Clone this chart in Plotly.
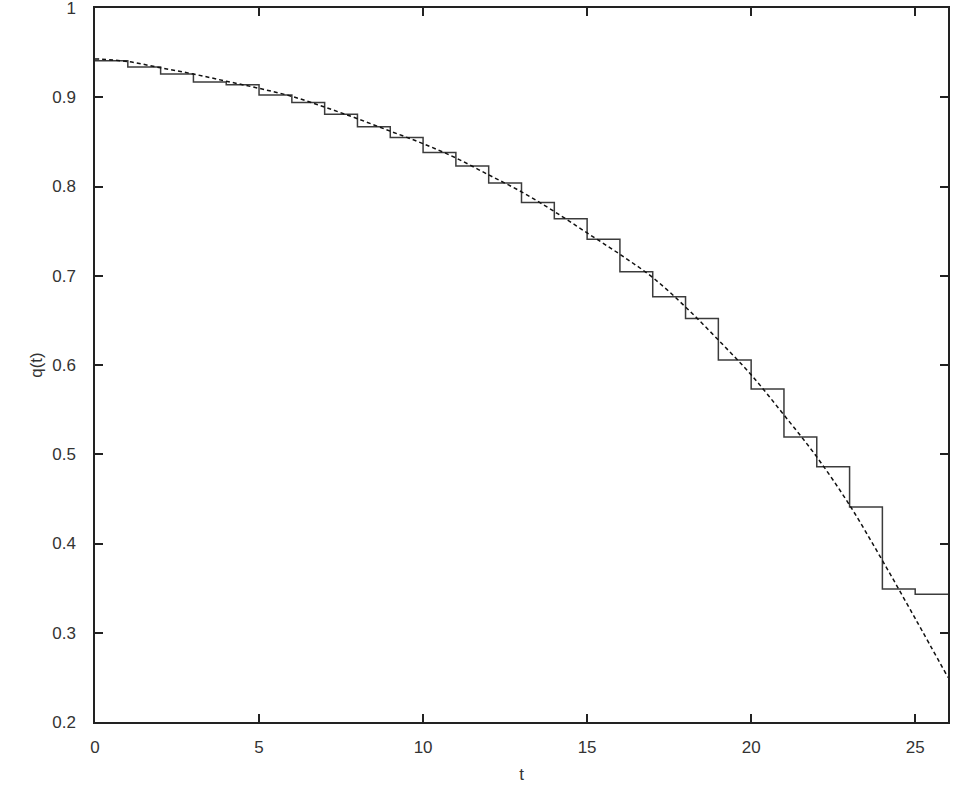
import plotly.graph_objects as go

# Step function: value on each unit interval [t, t+1)
step_t = list(range(0, 27))
step_q = [0.941, 0.934, 0.926, 0.917, 0.914, 0.9025, 0.894, 0.881, 0.867, 0.855,
          0.838, 0.823, 0.804, 0.782, 0.764, 0.741, 0.7045, 0.6765, 0.652, 0.6056,
          0.5731, 0.5193, 0.486, 0.441, 0.349, 0.343, 0.343]

# Smooth (dashed) curve read at integer t
curve_t = list(range(0, 27))
curve_q = [0.943, 0.940, 0.933, 0.926, 0.918, 0.910, 0.901, 0.889, 0.876, 0.862,
           0.848, 0.832, 0.813, 0.794, 0.772, 0.748, 0.724, 0.698, 0.665, 0.628,
           0.589, 0.544, 0.497, 0.443, 0.381, 0.316, 0.250]

x_ticks = [0, 5, 10, 15, 20, 25]
y_ticks = [0.2, 0.3, 0.4, 0.5, 0.6, 0.7, 0.8, 0.9, 1.0]
y_tick_labels = ["0.2", "0.3", "0.4", "0.5", "0.6", "0.7", "0.8", "0.9", "1"]

fig = go.Figure()
fig.add_trace(go.Scatter(x=step_t, y=step_q, mode="lines", line_shape="hv",
                         line=dict(color="#3c3c3c", width=1.5), showlegend=False))
fig.add_trace(go.Scatter(x=curve_t, y=curve_q, mode="lines", line_shape="spline",
                         line=dict(color="#111111", width=1.5, dash="4px,3px"),
                         showlegend=False))

font = dict(family="Liberation Sans, Arial, sans-serif", size=17, color="#333333")
fig.update_layout(
    width=953, height=792,
    margin=dict(l=95, r=5, t=8, b=70),
    plot_bgcolor="white", paper_bgcolor="white",
    font=font,
    xaxis=dict(range=[0, 26], tickvals=x_ticks, ticks="inside", ticklen=8,
               tickcolor="#222", tickwidth=1.5, tickfont=font, automargin=False,
               showline=True, linecolor="#222", linewidth=1.5, mirror="ticks",
               showgrid=False, zeroline=False, ticklabelstandoff=9,
               title=dict(text="t", standoff=12, font=font)),
    yaxis=dict(range=[0.2, 1.00001], tickvals=y_ticks, ticktext=y_tick_labels,
               ticks="inside", ticklen=8, tickcolor="#222", tickwidth=1.5,
               tickfont=font, automargin=False, ticklabeloverflow="allow",
               showline=True, linecolor="#222", linewidth=1.5, mirror="ticks",
               showgrid=False, zeroline=False, ticklabelstandoff=14,
               title=dict(text="q(t)", standoff=5, font=font)),
)
fig.write_html("out.html", config={"displayModeBar": False},
               post_script="document.body.style.margin='0px';")
